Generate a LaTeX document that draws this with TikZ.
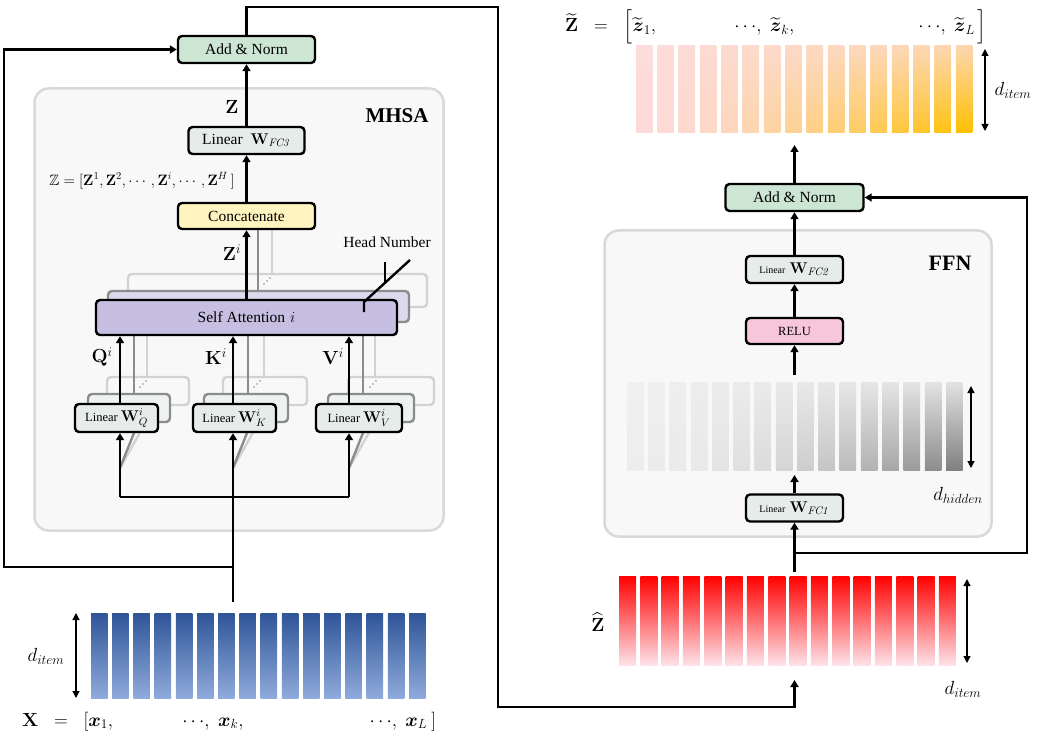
\RequirePackage{fix-cm}
\documentclass[tikz,border=0pt]{standalone}
\usepackage{amsmath,amssymb}
\usepackage[no-math]{fontspec}
\setmainfont{Liberation Serif}
\usetikzlibrary{arrows.meta}
\definecolor{ancol}{HTML}{CCE6D3}
\definecolor{lincol}{HTML}{E6ECEA}
\definecolor{lincolb}{HTML}{EEF2F1}
\definecolor{concol}{HTML}{FFF4BF}
\definecolor{sacol}{HTML}{C7BFE1}
\definecolor{sacolb}{HTML}{DDD8EE}
\definecolor{relucol}{HTML}{F8C6DB}
\definecolor{panelfill}{HTML}{F8F8F8}
\definecolor{panelline}{HTML}{D9D9D9}
\definecolor{ghostdark}{HTML}{8C8C8C}
\definecolor{ghostlight}{HTML}{D2D2D2}
\definecolor{bluetop}{HTML}{2F5597}
\definecolor{bluemid}{HTML}{4472C4}
\definecolor{bluebot}{HTML}{8FAADC}
\definecolor{redtop}{HTML}{FF0000}
\definecolor{redbot}{HTML}{FDE2E8}
\definecolor{gtopL}{HTML}{F0F0F0}
\definecolor{gtopR}{HTML}{E2E2E2}
\definecolor{gbotL}{HTML}{EDEDED}
\definecolor{gbotR}{HTML}{808080}
\definecolor{otopL}{HTML}{FDDCDC}
\definecolor{otopR}{HTML}{FDD6B0}
\definecolor{obotL}{HTML}{FDDADA}
\definecolor{obotR}{HTML}{FFC000}
\newcommand\szText{\fontsize{15.5}{18}\selectfont}
\newcommand\szSmall{\fontsize{12.5}{14}\selectfont}
\newcommand\szTiny{\fontsize{10}{12}\selectfont}
\newcommand\szMath{\fontsize{19}{22}\selectfont}
\newcommand\szW{\fontsize{15.5}{18}\selectfont}
\begin{document}
\begin{tikzpicture}[x=1pt,y=-1pt,
  box/.style={draw=black, line width=2.4pt, rounded corners=4pt, inner sep=0pt, align=center},
  ghostA/.style={draw=ghostdark, line width=2.4pt, rounded corners=4pt, inner sep=0pt},
  ghostB/.style={draw=ghostlight, line width=2.4pt, rounded corners=4pt, inner sep=0pt, fill=panelfill},
  panel/.style={draw=panelline, fill=panelfill, line width=2.5pt, rounded corners=14pt, inner sep=0pt},
  wire/.style={line width=2.4pt},
  arr/.style={line width=2.4pt, -{Triangle[length=7pt,width=8pt]}},
  dim/.style={line width=1.2pt, {Triangle[length=7pt,width=7pt]}-{Triangle[length=7pt,width=7pt]}},
  gline/.style={draw=ghostdark, line width=2.4pt},
  lline/.style={draw=ghostlight, line width=2.4pt},
  lab/.style={inner sep=0pt},
]
\useasboundingbox (0,0) rectangle (1039,738);

% ---------------- panels
\node[panel, minimum width=409pt, minimum height=442pt] (mhsa) at (239,309.5) {};
\node[panel, minimum width=387pt, minimum height=306pt] (ffn) at (798,383.5) {};
\node[lab, font=\fontsize{21}{24}\selectfont\bfseries] (mhsalab) at (397,116) {MHSA};
\node[lab, font=\fontsize{22}{24}\selectfont\bfseries] (ffnlab) at (950,263) {FFN};

% ---------------- ghost layer 3 (lightest)
\node[ghostB, minimum width=299pt, minimum height=33pt] (sa3) at (277.5,290.5) {};
\node[ghostB, minimum width=82pt, minimum height=28pt] (lq3) at (148,391) {};
\node[ghostB, minimum width=84pt, minimum height=28pt] (lk3) at (265,391) {};
\node[ghostB, minimum width=86pt, minimum height=28pt] (lv3) at (391,391) {};
\draw[lline] (272,230) -- (272,273);
\draw[lline] (147,308) -- (147,376);
\draw[lline] (264,308) -- (264,376);
\draw[lline] (375,308) -- (375,376);
\draw[lline] (120,468) -- (155,406);
\draw[lline] (233,468) -- (268,406);
\draw[lline] (349,468) -- (384,406);

% ---------------- ghost layer 2
\node[ghostA, fill=sacolb, minimum width=301pt, minimum height=31pt] (sa2) at (258.5,306.5) {};
\node[ghostA, fill=lincolb, minimum width=82pt, minimum height=28pt] (lq2) at (129,408) {};
\node[ghostA, fill=lincolb, minimum width=84pt, minimum height=28pt] (lk2) at (246,408) {};
\node[ghostA, fill=lincolb, minimum width=86pt, minimum height=28pt] (lv2) at (371,408) {};
\draw[gline] (258,230) -- (258,290);
\draw[gline] (134,323) -- (134,393);
\draw[gline] (248,323) -- (248,393);
\draw[gline] (363,323) -- (363,393);
\draw[gline] (120,468) -- (138,423);
\draw[gline] (233,468) -- (251,423);
\draw[gline] (349,468) -- (367,423);
% small dots between layers
\foreach \cx/\cy in {267/281, 143/384, 257/384, 373/384}{
  \fill[ghostdark] (\cx-3,\cy+3) circle (0.8);
  \fill[ghostdark] (\cx,\cy) circle (0.8);
  \fill[ghostdark] (\cx+3,\cy-3) circle (0.8);
}

% ---------------- MHSA main boxes
\node[box, fill=ancol, minimum width=137pt, minimum height=27pt] (an1) at (246.5,49.5) {\szText Add \& Norm};
\node[box, fill=lincol, minimum width=116pt, minimum height=27pt] (fc3) at (246.5,140.5) {\szText Linear\hspace{8pt}$\mathbf{W}_{\mathit{FC3}}$};
\node[box, fill=concol, minimum width=137pt, minimum height=26pt] (concat) at (246.5,216) {\szText Concatenate};
\node[box, fill=sacol, minimum width=301pt, minimum height=35pt] (sa) at (246.5,317.5) {\szText Self Attention\hspace{5pt}$i$};
\node[box, fill=lincol, minimum width=83pt, minimum height=28pt] (lq) at (116.5,418) {\szSmall Linear\hspace{3pt}{\szW$\mathbf{W}^{i}_{Q}$}};
\node[box, fill=lincol, minimum width=83pt, minimum height=28pt] (lk) at (234.5,418) {\szSmall Linear\hspace{3pt}{\szW$\mathbf{W}^{i}_{K}$}};
\node[box, fill=lincol, minimum width=86pt, minimum height=28pt] (lv) at (359,418) {\szSmall Linear\hspace{3pt}{\szW$\mathbf{W}^{i}_{V}$}};

% labels
\node[lab, font=\szMath] (zlab) at (232,107) {$\mathbf{Z}$};
\node[lab, font=\szMath] (zilab) at (232,253) {$\mathbf{Z}^{i}$};
\node[lab, font=\szMath] (qilab) at (102,357) {$\mathbf{Q}^{i}$};
\node[lab, font=\szMath] (kilab) at (216,357) {$\mathbf{K}^{i}$};
\node[lab, font=\szMath] (vilab) at (333,357) {$\mathbf{V}^{i}$};
\node[lab, font=\fontsize{15}{17}\selectfont] (zzlab) at (142,181) {$\mathbb{Z}=[\mathbf{Z}^{1},\mathbf{Z}^{2},\cdots,\mathbf{Z}^{i},\cdots,\mathbf{Z}^{H}\,]$};
\node[lab, font=\szText] (headlab) at (387,242) {Head Number};

% head number mark
\draw[wire] (364,312) -- (364,302) -- (410,260);
\draw[wire] (385,262) -- (385,283);

% MHSA arrows
\coordinate (xq) at (120,0);
\coordinate (xk) at (233,0);
\coordinate (xv) at (349,0);
\coordinate (inp) at (233,602);
\coordinate (busL) at (120,497);
\coordinate (busR) at (349,497);
\coordinate (resid) at (233,567);
\coordinate (lcorner) at (4,567);
\draw[arr] (lq.north -| xq) -- (sa.south -| xq);
\draw[arr] (lk.north -| xk) -- (sa.south -| xk);
\draw[arr] (lv.north -| xv) -- (sa.south -| xv);
\draw[arr] (sa.north) -- (concat.south);
\draw[arr] (concat.north) -- (fc3.south);
\draw[arr] (fc3.north) -- (an1.south);
\draw[wire] (busL) -- (busR);
\draw[arr] (inp) -- (inp |- lk.south);
\draw[arr] (busL) -- (busL |- lq.south);
\draw[arr] (busR) -- (busR |- lv.south);
\draw[arr] (resid) -- (lcorner) |- (an1.west);

% top wire to FFN input
\coordinate (tc1) at (498,7);
\coordinate (tc2) at (498,707);
\coordinate (zhatin) at (794.5,680);
\draw[arr] (an1.north) |- (tc1) -- (tc2) -| (zhatin);

% ---------------- input bars X
\foreach \i in {0,...,15}{
  \shade[top color=bluetop, middle color=bluemid, bottom color=bluebot] ({91+21.2*\i},613) rectangle ++(16.5,85);
}
\coordinate (dxa) at (76,613);
\coordinate (dxb) at (76,698);
\draw[dim] (dxa) -- (dxb);
\node[lab, font=\szMath] (dxlab) at (46,656) {$d_{item}$};
\node[lab, anchor=base west, font=\szMath] (xlabel) at (22,726) {$\mathbf{X}\;\;=\;\;[\boldsymbol{x}_{1},\hspace{66pt}\cdots\!,\;\boldsymbol{x}_{k},\hspace{123pt}\cdots\!,\;\boldsymbol{x}_{L}\hspace{4pt}]$};

% ---------------- FFN boxes
\node[box, fill=ancol, minimum width=138pt, minimum height=27pt] (an2) at (794.5,197.5) {\szText Add \& Norm};
\node[box, fill=lincol, minimum width=97pt, minimum height=27pt] (fc2) at (794.5,269.5) {\szTiny Linear\hspace{4pt}{\szW$\mathbf{W}_{\mathit{FC2}}$}};
\node[box, fill=relucol, minimum width=97pt, minimum height=26pt] (relu) at (794.5,331) {\szSmall RELU};
\node[box, fill=lincol, minimum width=97pt, minimum height=27pt] (fc1) at (794.5,508) {\szTiny Linear\hspace{4pt}{\szW$\mathbf{W}_{\mathit{FC1}}$}};

% gray hidden bars
\foreach \i in {0,...,15}{
  \pgfmathtruncatemacro\pa{100-100*(\i/15)^2}
  \pgfmathtruncatemacro\pb{100-100*\i/15}
  \shade[top color=gtopL!\pb!gtopR, bottom color=gbotL!\pa!gbotR] ({627+21.27*\i},382) rectangle ++(16.5,88);
}
% red bars Zhat
\foreach \i in {0,...,15}{
  \shade[top color=redtop, bottom color=redbot] ({619+21.33*\i},576) rectangle ++(17,89);
}
% orange bars Ztilde
\foreach \i in {0,...,15}{
  \pgfmathtruncatemacro\pa{100-100*(\i/15)^1.5}
  \pgfmathtruncatemacro\pb{100-100*\i/15}
  \shade[top color=otopL!\pb!otopR, bottom color=obotL!\pa!obotR] ({636+21.33*\i},46) rectangle ++(16.5,87);
}

% FFN arrows
\coordinate (obot) at (794.5,145);
\coordinate (gtop) at (794.5,375);
\coordinate (gbot) at (794.5,475);
\coordinate (rtop) at (794.5,572);
\coordinate (rjunc) at (794.5,553);
\coordinate (rc) at (1027,553);
\draw[arr] (an2.north) -- (obot);
\draw[arr] (fc2.north) -- (an2.south);
\draw[arr] (relu.north) -- (fc2.south);
\draw[arr] (gtop) -- (relu.south);
\draw[arr] (fc1.north) -- (gbot);
\draw[arr] (rtop) -- (fc1.south);
\draw[arr] (rjunc) -- (rc) |- (an2.east);

% dims
\coordinate (doa) at (985,49);
\coordinate (dob) at (985,131);
\coordinate (dga) at (971,386);
\coordinate (dgb) at (971,468);
\coordinate (dra) at (967,579);
\coordinate (drb) at (967,663);
\draw[dim] (doa) -- (dob);
\draw[dim] (dga) -- (dgb);
\draw[dim] (dra) -- (drb);
\node[lab, font=\szMath] (dolab) at (1013,90) {$d_{item}$};
\node[lab, font=\szMath] (dglab) at (958,495) {$d_{hidden}$};
\node[lab, font=\szMath] (drlab) at (963,689) {$d_{item}$};
\node[lab, font=\szMath] (zhatlab) at (598,622) {$\widehat{\mathbf{Z}}$};

% Z tilde label
\node[lab, anchor=base west, font=\szMath] (ztlab) at (565,32) {$\widetilde{\mathbf{Z}}\;\;=\;\;\Big[\widetilde{\boldsymbol{z}}_{1},\hspace{75pt}\cdots\!,\;\widetilde{\boldsymbol{z}}_{k},\hspace{121pt}\cdots\!,\;\widetilde{\boldsymbol{z}}_{L}\hspace{3pt}\Big]$};
\end{tikzpicture}
\end{document}
